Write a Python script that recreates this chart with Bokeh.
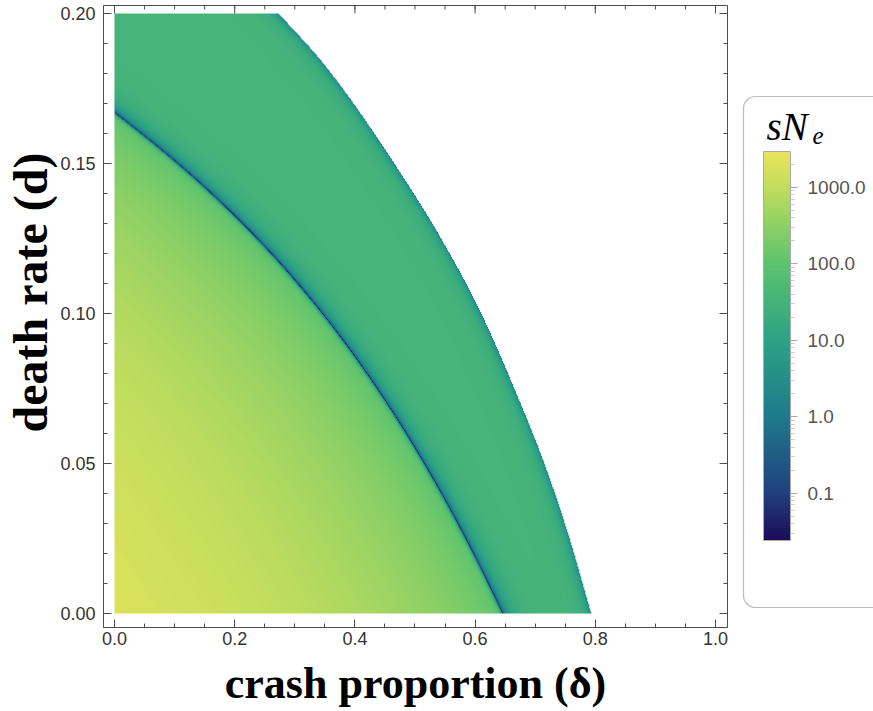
import numpy as np
from bokeh.plotting import figure
from bokeh.models import (LogColorMapper, ColorBar, FixedTicker, PrintfTickFormatter,
                          Range1d, BoxAnnotation, Label)
from bokeh.layouts import row
from bokeh.embed import file_html
from bokeh.resources import INLINE

# ---- data -----------------------------------------------------------------
# curve on which s changes sign (sN_e -> 0)
zero_delta = [0.000, 0.027, 0.093, 0.165, 0.240, 0.340, 0.437, 0.515, 0.584, 0.645]
zero_d = [0.1667, 0.1627, 0.152, 0.1387, 0.125, 0.100, 0.075, 0.050, 0.025, 0.000]
# outer limit of the region where sN_e is defined
edge_delta = [0.271, 0.343, 0.464, 0.542, 0.609, 0.664, 0.714, 0.756, 0.792]
edge_d = [0.200, 0.184, 0.150, 0.125, 0.100, 0.075, 0.050, 0.025, 0.000]
# magnitudes of sN_e
sne_origin = 2000.0          # at delta = 0, d = 0
sne_inner_near_zero = 100.0  # just inside the sign-change curve
sne_outer_plateau = 35.0     # between the sign-change curve and the edge
sne_at_edge = 1.5            # on the outer edge
# colour scale and ticks
sne_low, sne_high = 0.024, 2950.0
cbar_ticks = [0.1, 1.0, 10.0, 100.0, 1000.0]
x_ticks = [0.0, 0.2, 0.4, 0.6, 0.8, 1.0]
y_ticks = [0.00, 0.05, 0.10, 0.15, 0.20]

# ---- palette (blue - green - yellow) -------------------------------------
anchors = [(0.000, "#1c0c59"), (0.122, "#21407f"), (0.318, "#1e7b8b"),
           (0.515, "#2da285"), (0.711, "#5cc36f"), (0.908, "#c0dd5d"),
           (1.000, "#e9e45b")]
af = np.array([a[0] for a in anchors])
ac = np.array([[int(h[i:i + 2], 16) for i in (1, 3, 5)] for _, h in anchors], float)
palette = ["#%02x%02x%02x" % tuple(int(round(np.interp(t, af, ac[:, k]))) for k in range(3))
           for t in np.linspace(0, 1, 256)]


# ---- smooth curve d(delta) through read points (cubic Hermite) -------------
def hermite(xp, yp, x):
    xp = np.asarray(xp, float)
    yp = np.asarray(yp, float)
    x = np.asarray(x, float)
    h = np.diff(xp)
    s = np.diff(yp) / h
    m = np.empty_like(yp)
    m[0], m[-1] = s[0], s[-1]
    m[1:-1] = (s[1:] * h[:-1] + s[:-1] * h[1:]) / (h[:-1] + h[1:])
    i = np.clip(np.searchsorted(xp, x) - 1, 0, len(h) - 1)
    t = np.clip((x - xp[i]) / h[i], 0, 1)
    t2, t3 = t * t, t * t * t
    y = ((2 * t3 - 3 * t2 + 1) * yp[i] + (t3 - 2 * t2 + t) * h[i] * m[i]
         + (-2 * t3 + 3 * t2) * yp[i + 1] + (t3 - t2) * h[i] * m[i + 1])
    y = np.where(x < xp[0], yp[0] + m[0] * (x - xp[0]), y)
    y = np.where(x > xp[-1], yp[-1] + m[-1] * (x - xp[-1]), y)
    return y


# the sign-change curve: least-squares cubic, ends held firmly
zw = np.ones(len(zero_delta))
zw[0] = zw[-1] = 6.0
zero_fit = np.poly1d(np.polyfit(zero_delta, zero_d, 3, w=zw))


def zero_curve(x):
    return zero_fit(x)


def edge_curve(x):
    return hermite(edge_delta, edge_d, x)


# ---- field on a pixel grid -------------------------------------------------
NX, NY = 601, 600
SX, SY = 601.0, 3000.0  # screen pixels per unit of delta and of d
xs = (np.arange(NX) + 0.5) / NX
ys = (np.arange(NY) + 0.5) / NY * 0.2
DL, DD = np.meshgrid(xs, ys)
PX, PY = DL * SX, DD * SY

t_dense = np.linspace(-0.25, 1.05, 900)


def curve_distance(px, py, vx, vy):
    best = np.full(np.shape(px), np.inf)
    for i in range(len(vx) - 1):
        ax, ay = vx[i], vy[i]
        dx, dy = vx[i + 1] - ax, vy[i + 1] - ay
        t = np.clip(((px - ax) * dx + (py - ay) * dy) / (dx * dx + dy * dy), 0, 1)
        best = np.minimum(best, np.hypot(px - ax - t * dx, py - ay - t * dy))
    return best


zx, zy = t_dense * SX, zero_curve(t_dense) * SY
ex, ey = t_dense * SX, edge_curve(t_dense) * SY
dz = curve_distance(PX, PY, zx, zy)
de = curve_distance(PX, PY, ex, ey)

inside = DD < zero_curve(DL)
outside_edge = DD > edge_curve(DL)

L = 60.0
dz0 = float(curve_distance(np.array([0.0]), np.array([0.0]), zx, zy)[0])
pw = np.log(sne_origin / sne_inner_near_zero) / np.log(1 + dz0 / L)
v_in = sne_inner_near_zero * (1 + dz / L) ** pw * (1 - np.exp(-(dz / 4.0) ** 2))

m = sne_at_edge / sne_outer_plateau
v_out = (sne_outer_plateau * (1 - np.exp(-(dz / 15.0) ** 1.5))
         * (m + (1 - m) * (1 - np.exp(-(de / 10.0) ** 1.2))))

sne = np.where(inside, v_in, v_out)
sne = np.clip(sne, sne_low * 1.05, None)
sne = np.where(outside_edge, np.nan, sne)

mapper = LogColorMapper(palette=palette, low=sne_low, high=sne_high,
                        nan_color=(0, 0, 0, 0.0))

# ---- main panel -------------------------------------------------------------
FRAME = "#4d4d4d"
X0, X1 = -0.0183, 1.0200
Y0, Y1 = -0.00467, 0.20267
p = figure(frame_width=624, frame_height=622,
           x_range=Range1d(X0, X1), y_range=Range1d(Y0, Y1),
           output_backend="svg", toolbar_location=None,
           min_border_left=103, min_border_right=13, min_border_top=5, min_border_bottom=84)
p.grid.visible = False
p.outline_line_color = FRAME

p.image(image=[sne], x=0, y=0, dw=1.0, dh=0.2, color_mapper=mapper)

x_minor = list(np.round(np.arange(0, 1.0001, 0.05), 3))
y_minor = list(np.round(np.arange(0, 0.2001, 0.01), 3))


def style_axis(ax):
    ax.axis_line_color = FRAME
    ax.major_tick_line_color = FRAME
    ax.minor_tick_line_color = FRAME
    ax.major_tick_in = 8
    ax.major_tick_out = 0
    ax.minor_tick_in = 4
    ax.minor_tick_out = 0
    ax.major_label_text_font = "Liberation Sans"
    ax.major_label_text_font_size = "18px"
    ax.major_label_text_color = "#333333"
    ax.axis_label_text_font = "Liberation Serif"
    ax.axis_label_text_font_style = "bold"
    ax.axis_label_text_color = "black"


xa = p.xaxis[0]
xa.ticker = FixedTicker(ticks=x_ticks, minor_ticks=x_minor)
xa.formatter = PrintfTickFormatter(format="%.1f")
style_axis(xa)
xa.major_label_standoff = 4
xa.axis_label = "crash proportion (δ)"
xa.axis_label_text_font_size = "44px"
xa.axis_label_standoff = 11

ya = p.yaxis[0]
ya.ticker = FixedTicker(ticks=y_ticks, minor_ticks=y_minor)
ya.formatter = PrintfTickFormatter(format="%.2f")
style_axis(ya)
ya.major_label_standoff = 8
# leading no-break spaces lift the title a little above the frame centre
ya.axis_label = "\u00a0\u00a0\u00a0\u00a0death rate (d)"
ya.axis_label_text_font_size = "48px"
ya.axis_label_standoff = 0

# tick marks mirrored on the top and right edges of the frame
kx, ky = 1.0 / 601.0, 1.0 / 3000.0
p.segment(x0=x_ticks, y0=[Y1] * len(x_ticks), x1=x_ticks, y1=[Y1 - 8 * ky] * len(x_ticks),
          line_color=FRAME, line_width=1)
p.segment(x0=x_minor, y0=[Y1] * len(x_minor), x1=x_minor, y1=[Y1 - 4 * ky] * len(x_minor),
          line_color=FRAME, line_width=1)
p.segment(x0=[X1] * len(y_ticks), y0=y_ticks, x1=[X1 - 8 * kx] * len(y_ticks), y1=y_ticks,
          line_color=FRAME, line_width=1)
p.segment(x0=[X1] * len(y_minor), y0=y_minor, x1=[X1 - 4 * kx] * len(y_minor), y1=y_minor,
          line_color=FRAME, line_width=1)

# ---- colour bar panel (coordinates in page pixels) ---------------------------
q = figure(frame_width=133, frame_height=622,
           x_range=Range1d(740, 873), y_range=Range1d(627, 5),
           output_backend="svg", toolbar_location=None,
           min_border_left=0, min_border_right=0, min_border_top=5, min_border_bottom=84,
           x_axis_location=None, y_axis_location=None)
q.grid.visible = False
q.outline_line_color = None

q.add_layout(BoxAnnotation(left=743, right=900, top=96, bottom=607,
                           fill_alpha=0, line_color="#222222", line_width=1.2,
                           border_radius=12))

minor = [k * 10.0 ** e for e in range(-2, 4) for k in range(2, 10)]
minor = [t for t in minor if sne_low <= t <= sne_high]
cb = ColorBar(color_mapper=mapper, width=27, height=389, location=(23, 87),
              ticker=FixedTicker(ticks=cbar_ticks, minor_ticks=minor),
              formatter=PrintfTickFormatter(format="%.1f"),
              padding=0, label_standoff=10,
              major_tick_in=0, major_tick_out=7, minor_tick_in=0, minor_tick_out=4,
              major_tick_line_color="#aaaaaa", minor_tick_line_color="#cccccc",
              bar_line_color="#aaaaaa",
              major_label_text_font="Liberation Sans", major_label_text_font_size="19px",
              major_label_text_color="#555555",
              background_fill_color=None, border_line_color=None)
q.add_layout(cb, "center")

q.add_layout(Label(x=766, y=126, text="sN", text_font="Liberation Serif",
                   text_font_style="italic", text_font_size="39px", text_color="black",
                   text_baseline="alphabetic"))
q.add_layout(Label(x=812, y=135, text="e", text_font="Liberation Serif",
                   text_font_style="italic", text_font_size="25px", text_color="black",
                   text_baseline="alphabetic"))

layout = row(p, q)
open("out.html", "w").write(file_html(layout, INLINE))
